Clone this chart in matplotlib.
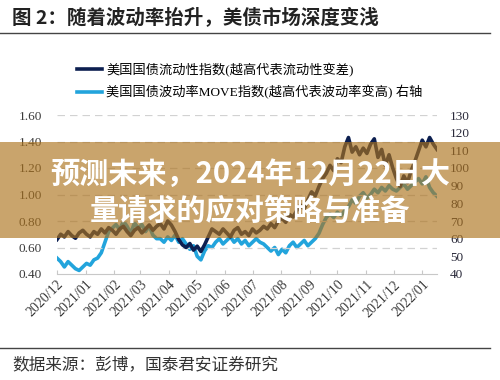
import matplotlib
matplotlib.use("Agg")
import matplotlib.pyplot as plt
import matplotlib.dates as mdates
from matplotlib.lines import Line2D
from matplotlib.patches import Rectangle
import pandas as pd

plt.rcParams['font.family'] = ['Liberation Serif', 'Noto Sans CJK SC']

title = "图 2：随着波动率抬升，美债市场深度变浅"
source = "数据来源：彭博，国泰君安证券研究"
overlay_lines = ["预测未来，2024年12月22日大", "量请求的应对策略与准备"]
label_liq = "美国国债流动性指数(越高代表流动性变差)"
label_move = "美国国债波动率MOVE指数(越高代表波动率变高) 右轴"

liquidity = [0.66, 0.70, 0.68, 0.72, 0.69, 0.67, 0.71, 0.73, 0.70, 0.68, 0.72, 0.70,
             0.74, 0.71, 0.75, 0.73, 0.70, 0.74, 0.76, 0.72, 0.69, 0.73, 0.75, 0.71, 0.74, 0.77, 0.73, 0.76,
             0.78, 0.74, 0.80, 0.77, 0.72, 0.66, 0.62,
             0.60, 0.63, 0.58, 0.61, 0.57, 0.62, 0.68, 0.74,
             0.72, 0.70, 0.74, 0.71, 0.68, 0.73, 0.75, 0.70, 0.72, 0.69, 0.74, 0.71, 0.73, 0.76, 0.74,
             0.78, 0.75, 0.80, 0.82, 0.79, 0.85, 0.83, 0.88, 0.92, 0.89, 0.96, 1.02, 0.99, 1.06, 1.12, 1.16,
             1.22, 1.18, 1.27, 1.24, 1.36, 1.43,
             1.32, 1.36, 1.30, 1.35, 1.31, 1.38, 1.42,
             1.28, 1.34, 1.22, 1.30, 1.20,
             1.12, 1.06, 1.14, 1.09, 1.18, 1.25,
             1.33, 1.41, 1.36, 1.43, 1.38, 1.34]

move = [49, 47, 44, 47, 45, 43, 42, 44, 46, 45, 48, 49,
        52, 58, 64, 66, 68, 65, 70, 67, 63, 69, 66, 68, 64, 67, 62, 60,
        60, 58, 61, 59, 62, 58, 60,
        57, 54, 56, 50, 48, 53, 56, 55,
        58, 60, 57, 59, 61, 58, 60, 57, 59, 56, 58, 60, 58, 57, 55,
        53, 55, 51, 54, 52, 56, 58, 55, 57, 59, 56, 58, 60, 63, 68, 72,
        74, 72, 75, 73, 76, 78,
        82, 80, 84, 86, 83, 85, 88,
        86, 89, 87, 90, 88,
        87, 89, 91, 88, 90, 92,
        94, 91, 95, 89, 86, 84]

dates = pd.date_range("2020-12-01", periods=len(liquidity), freq="4D")
month_ticks = pd.date_range("2020-12-01", "2022-01-01", freq="MS")
left_ticks = [0.40, 0.60, 0.80, 1.00, 1.20, 1.40, 1.60]
right_ticks = list(range(40, 131, 10))

W, H = 500, 380
fig = plt.figure(figsize=(5, 3.8), dpi=100)
fig.patch.set_facecolor("white")

ax = fig.add_axes([57 / W, 1 - 274 / H, 380 / W, 159 / H])
ax2 = ax.twinx()

navy = "#0c1f50"
light = "#22a4dc"

l2, = ax2.plot(dates, move, color=light, lw=2.6, zorder=2)
l1, = ax.plot(dates, liquidity, color=navy, lw=2.6, zorder=3)
ax.set_zorder(ax2.get_zorder() + 1)
ax.patch.set_visible(False)

ax.set_ylim(0.40, 1.60)
ax2.set_ylim(40, 130)
ax.set_xlim(pd.Timestamp("2020-12-01"), pd.Timestamp("2022-01-17"))
ax.set_yticks(left_ticks)
ax.set_yticklabels([f"{v:.2f}" for v in left_ticks])
ax2.set_yticks(right_ticks)

for v in left_ticks[1:]:
    ax.axhline(v, color="#d2d2d2", lw=0.9, ls=(0, (6, 4)), zorder=0)

for a in (ax, ax2):
    for s in ("top", "left", "right"):
        a.spines[s].set_visible(False)
ax2.spines["bottom"].set_visible(False)
ax.spines["bottom"].set_color("#c8c8c8")
ax.tick_params(axis="y", length=0, pad=11, labelsize=9.5, labelcolor="#3a3a3a")
ax2.tick_params(axis="y", length=0, pad=9.5, labelsize=9.5, labelcolor="#2a2a3a")

ax.set_xticks(month_ticks)
ax.xaxis.set_major_formatter(mdates.DateFormatter("%Y/%m"))
ax.tick_params(axis="x", direction="in", length=3, color="#c8c8c8", labelsize=10,
               labelcolor="#3a3a3a", pad=3)
for lab in ax.get_xticklabels():
    lab.set_rotation(45)
    lab.set_ha("right")
    lab.set_rotation_mode("anchor")

fig.legend([l1, l2], [label_liq, label_move], loc="upper left",
           bbox_to_anchor=(77 / W, 1 - 63 / H), frameon=False,
           fontsize=9.5, handlelength=1.9, handletextpad=0.3, labelspacing=0.6,
           borderaxespad=0, borderpad=0)

fig.text(12 / W, 1 - 17 / H, title, fontsize=14, fontweight="bold", va="center", ha="left",
         color="#222222", family=["Noto Sans CJK SC"])
fig.add_artist(Line2D([0, 490 / W], [1 - 33 / H, 1 - 33 / H], color="#444444", lw=1))
fig.add_artist(Line2D([0, 490 / W], [1 - 348 / H, 1 - 348 / H], color="#444444", lw=1))
fig.text(12 / W, 1 - 365 / H, source, fontsize=12, va="center", ha="left",
         color="#333333", family=["Noto Sans CJK SC"])

band = Rectangle((0, 1 - 238 / H), 1, 96 / H, transform=fig.transFigure,
                 facecolor="#ac731d", alpha=0.65, edgecolor="none", zorder=10)
fig.add_artist(band)
fig.text(250 / W, 1 - 174 / H, overlay_lines[0], fontsize=21, fontweight="bold", color="white",
         ha="center", va="center", zorder=11, family=["Noto Sans CJK SC"])
fig.text(250 / W, 1 - 211 / H, overlay_lines[1], fontsize=21, fontweight="bold", color="white",
         ha="center", va="center", zorder=11, family=["Noto Sans CJK SC"])

fig.savefig("out.png", dpi=100)
